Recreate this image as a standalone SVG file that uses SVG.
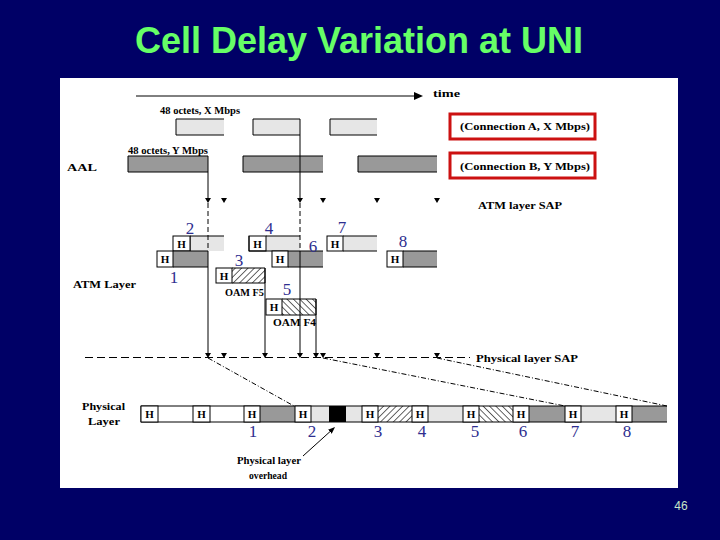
<svg xmlns="http://www.w3.org/2000/svg" width="720" height="540" viewBox="0 0 720 540">
<style>
.lbl{font-family:"Liberation Serif","Times New Roman",serif;font-weight:bold;font-size:11px;fill:#000}
.num{font-family:"Liberation Serif","Times New Roman",serif;font-size:17px;fill:#2e2e8f;text-anchor:middle}
.h{font-family:"Liberation Serif","Times New Roman",serif;font-weight:bold;font-size:11px;text-anchor:middle;fill:#000}
.hb{fill:#fff;stroke:#000;stroke-width:1}
.lg{fill:#e6e6e6}
.dg{fill:#999}
.bk{fill:#000}
.edge{fill:none;stroke:#000;stroke-width:1}
.ln{stroke:#000;stroke-width:1;fill:none}
.dash{stroke:#000;stroke-width:1;stroke-dasharray:5 3;fill:none}
.sap{stroke:#000;stroke-width:1;stroke-dasharray:8 4;fill:none}
.dd{stroke:#000;stroke-width:1;stroke-dasharray:5 2 1 2;fill:none}
.red{fill:#fff;stroke:#cc1111;stroke-width:3}
</style>
<defs>
<polygon id="tri" points="-3,-5 3,-5 0,0" fill="#000"/>
<pattern id="hatchF" width="4.5" height="4.5" patternUnits="userSpaceOnUse" patternTransform="rotate(45)"><rect width="4.5" height="4.5" fill="#fff"/><line x1="0" y1="0" x2="0" y2="4.5" stroke="#000" stroke-width="1.2"/></pattern>
<pattern id="hatchB" width="4.5" height="4.5" patternUnits="userSpaceOnUse" patternTransform="rotate(-45)"><rect width="4.5" height="4.5" fill="#fff"/><line x1="0" y1="0" x2="0" y2="4.5" stroke="#000" stroke-width="1.2"/></pattern>
<marker id="blob" viewBox="0 0 10 10" refX="8" refY="5" markerWidth="7" markerHeight="7" orient="auto" markerUnits="userSpaceOnUse"><path d="M0,1 L10,5 L0,9 Z" fill="#000"/></marker>
</defs>

<rect x="0" y="0" width="720" height="540" fill="#000066"/>
<g id="title"><text x="359" y="53" font-family="Liberation Sans, Arial, sans-serif" font-weight="bold" font-size="36" fill="#66ff66" text-anchor="middle">Cell Delay Variation at UNI</text></g>
<rect id="panel" x="60" y="78" width="618" height="410" fill="#fff"/>
<text x="681" y="510" font-family="Liberation Sans, Arial, sans-serif" font-size="12" fill="#c8e6c8" text-anchor="middle">46</text>

<g id="labels">
<text class="lbl" x="433" y="97" font-size="10.5" textLength="27" lengthAdjust="spacingAndGlyphs">time</text>
<text class="lbl" x="160" y="113.5" font-size="10.5" textLength="80" lengthAdjust="spacingAndGlyphs">48 octets, X Mbps</text>
<text class="lbl" x="128" y="153.5" font-size="10.5" textLength="80" lengthAdjust="spacingAndGlyphs">48 octets, Y Mbps</text>
<text class="lbl" x="67" y="171" font-size="12" textLength="30" lengthAdjust="spacingAndGlyphs">AAL</text>
<text class="lbl" x="478" y="209" font-size="12" textLength="84" lengthAdjust="spacingAndGlyphs">ATM layer SAP</text>
<text class="lbl" x="73" y="288" font-size="12" textLength="63" lengthAdjust="spacingAndGlyphs">ATM Layer</text>
<text class="lbl" x="476" y="361.5" font-size="12" textLength="102" lengthAdjust="spacingAndGlyphs">Physical layer SAP</text>
<text class="lbl" x="82" y="410" font-size="12" textLength="43" lengthAdjust="spacingAndGlyphs">Physical</text>
<text class="lbl" x="88" y="425" font-size="12" textLength="32" lengthAdjust="spacingAndGlyphs">Layer</text>
<text class="lbl" x="237" y="464" font-size="10.5" textLength="64" lengthAdjust="spacingAndGlyphs">Physical layer</text>
<text class="lbl" x="249" y="479" font-size="10.5" textLength="38" lengthAdjust="spacingAndGlyphs">overhead</text>
</g>

<g id="connA">
<rect class="red" x="450" y="114" width="145" height="25"/>
<text class="lbl" x="460" y="130" font-size="12.5" textLength="130" lengthAdjust="spacingAndGlyphs">(Connection A, X Mbps)</text>
</g>
<g id="connB">
<rect class="red" x="450" y="153" width="145" height="25"/>
<text class="lbl" x="460" y="170" font-size="12.5" textLength="130" lengthAdjust="spacingAndGlyphs">(Connection B, Y Mbps)</text>
</g>

<g id="aal-x1"><rect class="lg" x="176" y="119" width="48" height="16"/><path class="edge" d="M224,119 H176 V135 H224"/></g>
<g id="aal-x2"><rect class="lg" x="253" y="119" width="47" height="16"/><path class="edge" d="M300,119 H253 V135 H300"/></g>
<g id="aal-x3"><rect class="lg" x="330" y="119" width="47" height="16"/><path class="edge" d="M377,119 H330 V135 H377"/></g>
<g id="aal-y1"><rect class="dg" x="128" y="156" width="80" height="16"/><path class="edge" d="M208,156 H128 V172 H208"/></g>
<g id="aal-y2"><rect class="dg" x="243" y="156" width="80" height="16"/><path class="edge" d="M323,156 H243 V172 H323"/></g>
<g id="aal-y3"><rect class="dg" x="358" y="156" width="79" height="16"/><path class="edge" d="M437,156 H358 V172 H437"/></g>

<g id="atm-cell-2"><rect class="lg" x="190" y="236" width="34" height="15"/><path class="edge" d="M224,236 H190 V251"/><rect class="hb" x="173" y="236" width="17" height="15"/><text class="h" x="181.5" y="247.5">H</text><text class="num" x="190" y="234">2</text></g>
<g id="atm-cell-1"><rect class="dg" x="173" y="251" width="35" height="16"/><path class="edge" d="M208,251 H173 M173,267 H208"/><rect class="hb" x="157" y="251" width="16" height="16"/><text class="h" x="165" y="263">H</text><text class="num" x="174" y="283">1</text></g>
<g id="atm-cell-4"><rect class="lg" x="266" y="236" width="34" height="15"/><path class="edge" d="M300,236 H266"/><rect class="hb" x="249" y="236" width="17" height="15"/><text class="h" x="257.5" y="247.5">H</text><text class="num" x="269" y="234">4</text></g>
<g id="atm-cell-6"><rect class="dg" x="288" y="251" width="35" height="16"/><path class="edge" d="M323,251 H249 V236 M288,267 H323"/><rect class="hb" x="272" y="251" width="16" height="16"/><text class="h" x="280" y="263">H</text><text class="num" x="313" y="252">6</text></g>
<g id="atm-cell-3"><rect x="232" y="268" width="33" height="15" fill="url(#hatchF)"/><path class="edge" d="M232,268 H265 V283 H232"/><rect class="hb" x="216" y="268" width="16" height="15"/><text class="h" x="224" y="279.5">H</text><text class="num" x="239" y="266">3</text><text class="lbl" x="225" y="296" font-size="10" textLength="39" lengthAdjust="spacingAndGlyphs">OAM F5</text></g>
<g id="atm-cell-5"><rect x="282" y="299" width="34" height="16" fill="url(#hatchB)"/><path class="edge" d="M282,299 H316 V315 H282"/><rect class="hb" x="266" y="299" width="16" height="16"/><text class="h" x="274" y="311">H</text><text class="num" x="287" y="295">5</text><text class="lbl" x="273" y="326" font-size="10.5" textLength="43" lengthAdjust="spacingAndGlyphs">OAM F4</text></g>
<g id="atm-cell-7"><rect class="lg" x="343" y="236" width="34" height="15"/><path class="edge" d="M377,236 H343 M343,251 H377"/><rect class="hb" x="327" y="236" width="16" height="15"/><text class="h" x="335" y="247.5">H</text><text class="num" x="342" y="233">7</text></g>
<g id="atm-cell-8"><rect class="dg" x="403" y="251" width="34" height="16"/><path class="edge" d="M437,251 H403 M403,267 H437"/><rect class="hb" x="387" y="251" width="16" height="16"/><text class="h" x="395" y="263">H</text><text class="num" x="403" y="247">8</text></g>

<g id="phy-bar">
<rect class="dg" x="260" y="406" width="35" height="16"/>
<rect class="lg" x="311" y="406" width="18" height="16"/>
<rect class="bk" x="329" y="406" width="17" height="16"/>
<rect class="lg" x="346" y="406" width="16" height="16"/>
<rect x="378" y="406" width="34" height="16" fill="url(#hatchF)"/>
<rect class="lg" x="428" y="406" width="35" height="16"/>
<rect x="479" y="406" width="34" height="16" fill="url(#hatchB)"/>
<rect class="dg" x="529" y="406" width="36" height="16"/>
<rect class="lg" x="581" y="406" width="35" height="16"/>
<rect class="dg" x="632" y="406" width="35" height="16"/>
<path class="edge" d="M667,406 H141 V422 H667"/>
</g>
<g id="phy-h">
<rect class="hb" x="141" y="406" width="17" height="16"/><text class="h" x="149.5" y="418">H</text>
<rect class="hb" x="193" y="406" width="17" height="16"/><text class="h" x="201.5" y="418">H</text>
<rect class="hb" x="244" y="406" width="16" height="16"/><text class="h" x="252" y="418">H</text>
<rect class="hb" x="295" y="406" width="16" height="16"/><text class="h" x="303" y="418">H</text>
<rect class="hb" x="362" y="406" width="16" height="16"/><text class="h" x="370" y="418">H</text>
<rect class="hb" x="412" y="406" width="16" height="16"/><text class="h" x="420" y="418">H</text>
<rect class="hb" x="463" y="406" width="16" height="16"/><text class="h" x="471" y="418">H</text>
<rect class="hb" x="513" y="406" width="16" height="16"/><text class="h" x="521" y="418">H</text>
<rect class="hb" x="565" y="406" width="16" height="16"/><text class="h" x="573" y="418">H</text>
<rect class="hb" x="616" y="406" width="16" height="16"/><text class="h" x="624" y="418">H</text>
</g>
<g id="phy-nums">
<text class="num" x="253" y="437">1</text>
<text class="num" x="312" y="437">2</text>
<text class="num" x="378" y="437">3</text>
<text class="num" x="422" y="437">4</text>
<text class="num" x="475" y="437">5</text>
<text class="num" x="523" y="437">6</text>
<text class="num" x="575" y="437">7</text>
<text class="num" x="627" y="437">8</text>
</g>

<g id="connectors">
<line class="ln" x1="136" y1="96" x2="416" y2="96"/>
<polygon points="414,92 423,96 414,100" fill="#000"/>
<line class="ln" x1="208" y1="156" x2="208" y2="200"/>
<line class="dash" x1="208" y1="203" x2="208" y2="251"/>
<line class="ln" x1="208" y1="251" x2="208" y2="355"/>
<line class="ln" x1="300" y1="119" x2="300" y2="200"/>
<line class="dash" x1="300" y1="203" x2="300" y2="251"/>
<line class="ln" x1="300" y1="251" x2="300" y2="355"/>
<line class="ln" x1="265" y1="268" x2="265" y2="355"/>
<line class="ln" x1="316" y1="299" x2="316" y2="355"/>
<use href="#tri" x="208" y="203"/><use href="#tri" x="224" y="203"/><use href="#tri" x="300" y="203"/><use href="#tri" x="323" y="203"/><use href="#tri" x="377" y="203"/><use href="#tri" x="437" y="203"/>
<line class="sap" x1="85" y1="357.5" x2="470" y2="357.5"/>
<use href="#tri" x="208" y="358"/><use href="#tri" x="224" y="358"/><use href="#tri" x="265" y="358"/><use href="#tri" x="300" y="358"/><use href="#tri" x="316" y="358"/><use href="#tri" x="323" y="358"/><use href="#tri" x="377" y="358"/><use href="#tri" x="437" y="358"/>
<line class="dd" x1="208" y1="358" x2="294" y2="406"/>
<line class="dd" x1="323" y1="358" x2="565" y2="406"/>
<line class="dd" x1="437" y1="358" x2="667" y2="406"/>
<line class="ln" x1="303" y1="456" x2="334" y2="428" marker-end="url(#blob)"/>
</g>
</svg>
